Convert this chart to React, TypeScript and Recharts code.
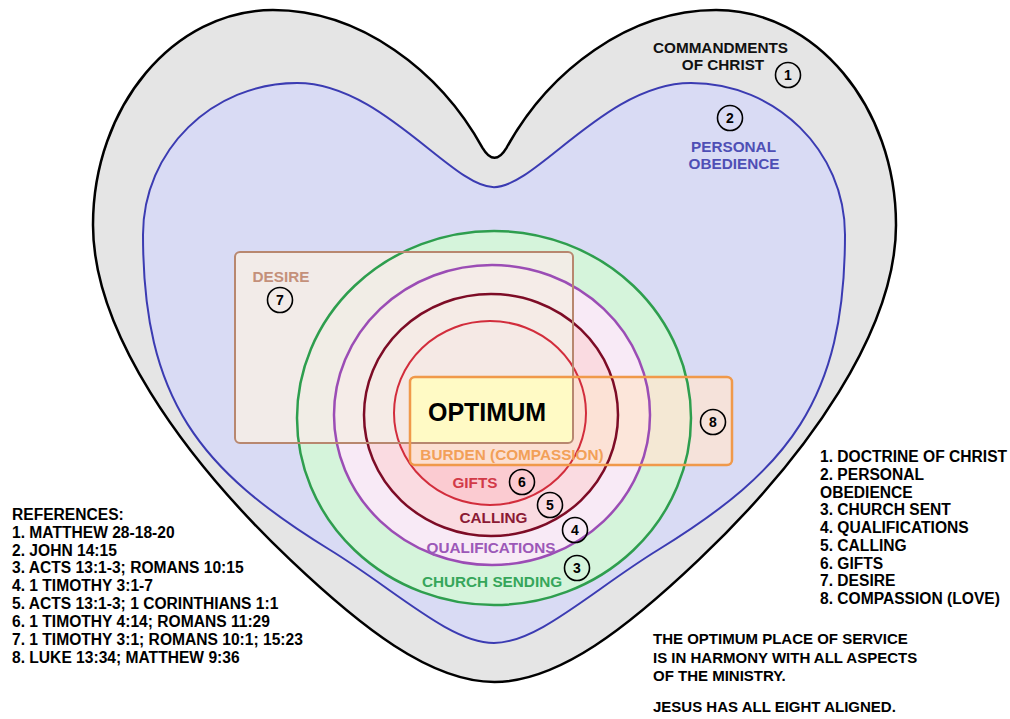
import React from 'react';
import { ScatterChart, XAxis, YAxis, ReferenceArea, Scatter } from 'recharts';

// ---------- DATA (diagram units) ----------
const heartNames = ['COMMANDMENTS OF CHRIST', 'PERSONAL OBEDIENCE'];
const heartX1 = [93, 143];
const heartX2 = [896, 845];
const heartY1 = [10, 83];
const heartY2 = [682, 643];

const ringNames = ['CHURCH SENDING', 'QUALIFICATIONS', 'CALLING', 'GIFTS'];
const ringCx = [494, 492, 491, 490];
const ringCy = [418, 415, 415, 413];
const ringRx = [197, 158, 127, 96];
const ringRy = [187, 150, 121, 92];

const boxNames = ['DESIRE', 'BURDEN (COMPASSION)', 'OPTIMUM'];
const boxX1 = [235, 410, 410];
const boxX2 = [573, 732, 573];
const boxY1 = [252, 377, 377];
const boxY2 = [443, 465, 443];

const labelText = ['COMMANDMENTS', 'OF CHRIST', 'PERSONAL', 'OBEDIENCE', 'DESIRE', 'OPTIMUM', 'BURDEN (COMPASSION)', 'GIFTS', 'CALLING', 'QUALIFICATIONS', 'CHURCH SENDING'];
const labelX = [720.5, 723, 733.5, 734, 281, 487, 512, 475, 493.5, 491, 492];
const labelY = [52.5, 70, 151.5, 169, 281.5, 421, 460, 488, 523, 552.5, 586.5];
const labelGroup = ['heart1', 'heart1', 'heart2', 'heart2', 'desire', 'optimum', 'burden', 'gifts', 'calling', 'qual', 'church'];

const markerNum = ['1', '2', '3', '4', '5', '6', '7', '8'];
const markerX = [788, 730, 577, 575, 550, 522, 280, 713];
const markerY = [75, 118, 568, 530, 505, 482, 300, 422];

const referenceLines = [
  'REFERENCES:',
  '1. MATTHEW 28-18-20',
  '2. JOHN 14:15',
  '3. ACTS 13:1-3; ROMANS 10:15',
  '4. 1 TIMOTHY 3:1-7',
  '5. ACTS 13:1-3; 1 CORINTHIANS 1:1',
  '6. 1 TIMOTHY 4:14; ROMANS 11:29',
  '7. 1 TIMOTHY 3:1; ROMANS 10:1; 15:23',
  '8. LUKE 13:34; MATTHEW 9:36',
];
const referenceX = 12;
const referenceY = [520, 538, 555.5, 573, 591, 608.5, 626.5, 644.5, 662.5];

const legendLines = [
  '1. DOCTRINE OF CHRIST',
  '2. PERSONAL',
  'OBEDIENCE',
  '3. CHURCH SENT',
  '4. QUALIFICATIONS',
  '5. CALLING',
  '6. GIFTS',
  '7. DESIRE',
  '8. COMPASSION (LOVE)',
];
const legendX = 820;
const legendY = [462, 480, 497.5, 515, 533, 550.5, 568.5, 586, 604];

const noteLines = [
  'THE OPTIMUM PLACE OF SERVICE',
  'IS IN HARMONY WITH ALL ASPECTS',
  'OF THE MINISTRY.',
  'JESUS HAS ALL EIGHT ALIGNED.',
];
const noteX = 653;
const noteY = [644, 662.5, 681, 712];

// ---------- STYLES ----------
const FONT = "'Liberation Sans', Arial, Helvetica, sans-serif";
const HEART_STYLE = [
  { fill: '#e5e5e5', stroke: '#000000', sw: 2.5 },
  { fill: '#d9dbf4', stroke: '#3b3bb2', sw: 2 },
];
const RING_STYLE = [
  { fill: '#d5f4db', stroke: '#2e9e4e', sw: 2.5 },
  { fill: '#f8eaf6', stroke: '#9b4db5', sw: 2.5 },
  { fill: '#fadbe1', stroke: '#7d0c26', sw: 2.5 },
  { fill: '#fbcbd1', stroke: '#d22d3c', sw: 2 },
];
const BOX_STYLE = [
  { fill: 'rgb(244,236,231)', op: 0.9, stroke: '#b8876f', sw: 2 },
  { fill: 'rgb(253,228,210)', op: 0.78, stroke: '#f0994a', sw: 2.5 },
  { fill: '#fffbc4', op: 0.95, stroke: 'none', sw: 0 },
];
const LABEL_STYLE: Record<string, { color: string; size: number }> = {
  heart1: { color: '#111111', size: 15.3 },
  heart2: { color: '#4f4fb5', size: 15.3 },
  desire: { color: '#c4907a', size: 15.3 },
  optimum: { color: '#000000', size: 25 },
  burden: { color: '#f2a058', size: 15.3 },
  gifts: { color: '#d23a48', size: 15.3 },
  calling: { color: '#8b1a35', size: 15.3 },
  qual: { color: '#9c58b8', size: 15.3 },
  church: { color: '#36a65a', size: 15.3 },
};
const LIST_SIZE = 15.6;
const NOTE_SIZE = 15;

// normalized heart outlines: u in [-1,1] from centre, v in [0,1] from top
type Pt = [number, number];
type Geom = { start: Pt; notch: Pt | null; segs: [Pt, Pt, Pt][] };
const HEART_GEOM: Geom[] = [
  {
    start: [-0.03, 0.205],
    notch: [0, 0.235],
    segs: [
      [[-0.136, 0.09], [-0.335, 0], [-0.552, 0]],
      [[-0.798, 0], [-1, 0.143], [-1, 0.32]],
      [[-1, 0.476], [-0.783, 0.662], [-0.509, 0.818]],
      [[-0.335, 0.917], [-0.161, 1], [0, 1]],
    ],
  },
  {
    start: [0, 0.186],
    notch: null,
    segs: [
      [[-0.12, 0.186], [-0.32, 0], [-0.561, 0]],
      [[-0.803, 0], [-1, 0.121], [-1, 0.271]],
      [[-1, 0.566], [-0.838, 0.691], [-0.467, 0.834]],
      [[-0.282, 0.905], [-0.125, 1], [0, 1]],
    ],
  },
];

function heartPath(g: Geom, x: number, y: number, w: number, h: number) {
  const cx = x + w / 2;
  const hw = w / 2;
  const P = (p: Pt, m = 1) => `${(cx + m * p[0] * hw).toFixed(1)},${(y + p[1] * h).toFixed(1)}`;
  let d = `M${P(g.start)}`;
  g.segs.forEach((s) => {
    d += ` C${P(s[0])} ${P(s[1])} ${P(s[2])}`;
  });
  for (let i = g.segs.length - 1; i >= 0; i--) {
    const s = g.segs[i];
    const end = i === 0 ? g.start : g.segs[i - 1][2];
    d += ` C${P(s[1], -1)} ${P(s[0], -1)} ${P(end, -1)}`;
  }
  if (g.notch) d += ` Q${P(g.notch)} ${P(g.start)}`;
  return d + ' Z';
}

const heartShape = (i: number) => (props: any) => {
  const st = HEART_STYLE[i];
  return (
    <path
      d={heartPath(HEART_GEOM[i], props.x, props.y, props.width, props.height)}
      fill={st.fill}
      stroke={st.stroke}
      strokeWidth={st.sw}
      strokeLinejoin="round"
    />
  );
};

const ellipseShape = (fill: string, stroke: string, sw: number) => (props: any) => (
  <ellipse
    cx={props.x + props.width / 2}
    cy={props.y + props.height / 2}
    rx={props.width / 2}
    ry={props.height / 2}
    fill={fill}
    stroke={stroke}
    strokeWidth={sw}
  />
);

const boxShape = (fill: string, op: number, stroke: string, sw: number) => (props: any) => (
  <rect
    x={props.x}
    y={props.y}
    width={props.width}
    height={props.height}
    rx={5}
    ry={5}
    fill={fill}
    fillOpacity={op}
    stroke={stroke}
    strokeWidth={sw}
  />
);

const labelShape = (p: any) => {
  const st = LABEL_STYLE[p.payload.group];
  return (
    <text x={p.cx} y={p.cy} textAnchor="middle" fontFamily={FONT} fontWeight="bold" fontSize={st.size} fill={st.color}>
      {p.payload.text}
    </text>
  );
};

const listShape = (size: number) => (p: any) => (
  <text x={p.cx} y={p.cy} textAnchor="start" fontFamily={FONT} fontWeight="bold" fontSize={size} fill="#000">
    {p.payload.text}
  </text>
);

const markerShape = (p: any) => (
  <g>
    <circle cx={p.cx} cy={p.cy} r={12.5} fill="none" stroke="#000" strokeWidth={1.6} />
    <text x={p.cx} y={p.cy + 5} textAnchor="middle" fontFamily={FONT} fontWeight="bold" fontSize={14} fill="#000">
      {p.payload.text}
    </text>
  </g>
);

const labelData = labelText.map((t, i) => ({ x: labelX[i], y: labelY[i], text: t, group: labelGroup[i] }));
const markerData = markerNum.map((t, i) => ({ x: markerX[i], y: markerY[i], text: t }));
const referenceData = referenceLines.map((t, i) => ({ x: referenceX, y: referenceY[i], text: t }));
const legendData = legendLines.map((t, i) => ({ x: legendX, y: legendY[i], text: t }));
const noteData = noteLines.map((t, i) => ({ x: noteX, y: noteY[i], text: t }));

export default function App() {
  return (
    <div style={{ position: 'absolute', left: 0, top: 0, width: 1010, height: 719, background: '#fff' }}>
      <ScatterChart width={1010} height={719} margin={{ top: 0, right: 0, bottom: 0, left: 0 }}>
        <XAxis type="number" dataKey="x" domain={[0, 1010]} hide allowDataOverflow />
        <YAxis type="number" dataKey="y" domain={[0, 719]} reversed hide allowDataOverflow />

        {heartNames.map((n, i) => (
          <ReferenceArea key={n} x1={heartX1[i]} x2={heartX2[i]} y1={heartY1[i]} y2={heartY2[i]} shape={heartShape(i)} />
        ))}

        {ringNames.map((n, i) => (
          <ReferenceArea
            key={'f' + n}
            x1={ringCx[i] - ringRx[i]}
            x2={ringCx[i] + ringRx[i]}
            y1={ringCy[i] - ringRy[i]}
            y2={ringCy[i] + ringRy[i]}
            shape={ellipseShape(RING_STYLE[i].fill, 'none', 0)}
          />
        ))}

        {boxNames.map((n, i) => (
          <ReferenceArea
            key={'bf' + n}
            x1={boxX1[i]}
            x2={boxX2[i]}
            y1={boxY1[i]}
            y2={boxY2[i]}
            shape={boxShape(BOX_STYLE[i].fill, BOX_STYLE[i].op, 'none', 0)}
          />
        ))}

        {ringNames.map((n, i) => (
          <ReferenceArea
            key={'s' + n}
            x1={ringCx[i] - ringRx[i]}
            x2={ringCx[i] + ringRx[i]}
            y1={ringCy[i] - ringRy[i]}
            y2={ringCy[i] + ringRy[i]}
            shape={ellipseShape('none', RING_STYLE[i].stroke, RING_STYLE[i].sw)}
          />
        ))}

        {boxNames.map((n, i) => (
          <ReferenceArea
            key={'bs' + n}
            x1={boxX1[i]}
            x2={boxX2[i]}
            y1={boxY1[i]}
            y2={boxY2[i]}
            shape={boxShape('none', 0, BOX_STYLE[i].stroke, BOX_STYLE[i].sw)}
          />
        ))}

        <Scatter data={labelData} shape={labelShape} isAnimationActive={false} />
        <Scatter data={markerData} shape={markerShape} isAnimationActive={false} />
        <Scatter data={referenceData} shape={listShape(LIST_SIZE)} isAnimationActive={false} />
        <Scatter data={legendData} shape={listShape(LIST_SIZE)} isAnimationActive={false} />
        <Scatter data={noteData} shape={listShape(NOTE_SIZE)} isAnimationActive={false} />
      </ScatterChart>
    </div>
  );
}
